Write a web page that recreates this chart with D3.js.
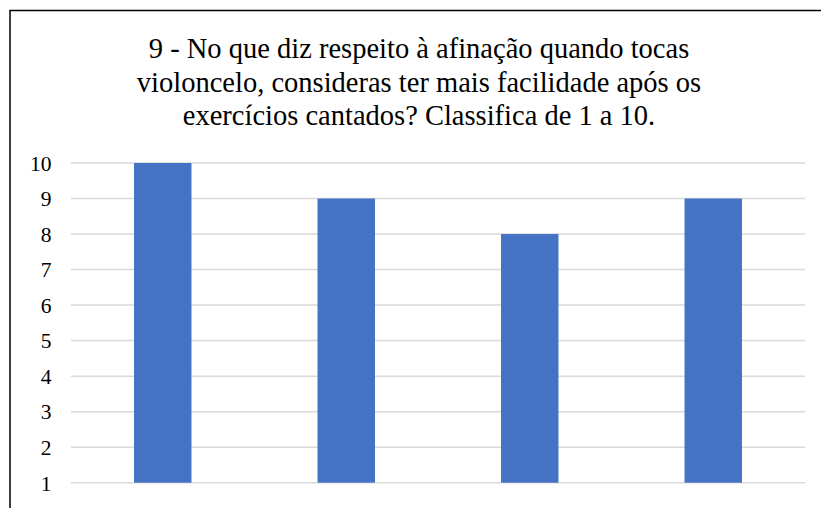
<!DOCTYPE html>
<html>
<head>
<meta charset="utf-8">
<script src="https://cdn.jsdelivr.net/npm/d3@7"></script>
<style>
  html, body { margin: 0; padding: 0; background: #fff; }
  svg { display: block; }
  .serif { font-family: "Liberation Serif", "Tinos", "Times New Roman", Times, "DejaVu Serif", serif; }
</style>
</head>
<body>
<svg id="chart" width="821" height="508"></svg>
<script>
const titleLines = [
  "9 - No que diz respeito à afinação quando tocas",
  "violoncelo, consideras ter mais facilidade após os",
  "exercícios cantados? Classifica de 1 a 10."
];
const categories = ["A", "B", "C", "D"];
const values = [10, 9, 8, 9];
const yTicks = [1, 2, 3, 4, 5, 6, 7, 8, 9, 10];

const svg = d3.select("#chart");
const W = 821, H = 508;

svg.append("rect")
  .attr("x", 10).attr("y", 10.5)
  .attr("width", 830).attr("height", 520)
  .attr("fill", "none").attr("stroke", "#000").attr("stroke-width", 1.5);

const margin = { left: 71, right: 16, top: 163, bottom: 25.3 };
const x = d3.scaleBand()
  .domain(categories)
  .range([margin.left, W - margin.right])
  .paddingInner(0.687)
  .paddingOuter(0.3435);
const y = d3.scaleLinear()
  .domain([1, 10])
  .range([H - margin.bottom, margin.top]);

svg.append("g")
  .selectAll("line")
  .data(yTicks)
  .join("line")
  .attr("x1", margin.left).attr("x2", W - margin.right)
  .attr("y1", d => y(d)).attr("y2", d => y(d))
  .attr("stroke", "#D9D9D9").attr("stroke-width", 1.5);

const yAxis = d3.axisLeft(y).tickValues(yTicks).tickSize(0).tickPadding(0).tickFormat(d3.format("d"));
const gy = svg.append("g").attr("transform", "translate(51.5,0)").call(yAxis);
gy.attr("font-family", null).attr("font-size", null);
gy.select(".domain").remove();
gy.selectAll("text")
  .attr("class", "serif")
  .style("font-size", "21.5px")
  .attr("fill", "#000")
  .attr("dy", "0.34em");

svg.append("g")
  .selectAll("rect")
  .data(values)
  .join("rect")
  .attr("x", (d, i) => x(categories[i]))
  .attr("width", x.bandwidth())
  .attr("y", d => y(d))
  .attr("height", d => y(1) - y(d))
  .attr("fill", "#4472C4");

svg.append("text")
  .attr("class", "serif")
  .attr("text-anchor", "middle")
  .style("font-size", "28.5px")
  .attr("fill", "#000")
  .selectAll("tspan")
  .data(titleLines)
  .join("tspan")
  .attr("x", 419)
  .attr("y", (d, i) => 58 + i * 33.6)
  .text(d => d);
</script>
</body>
</html>
